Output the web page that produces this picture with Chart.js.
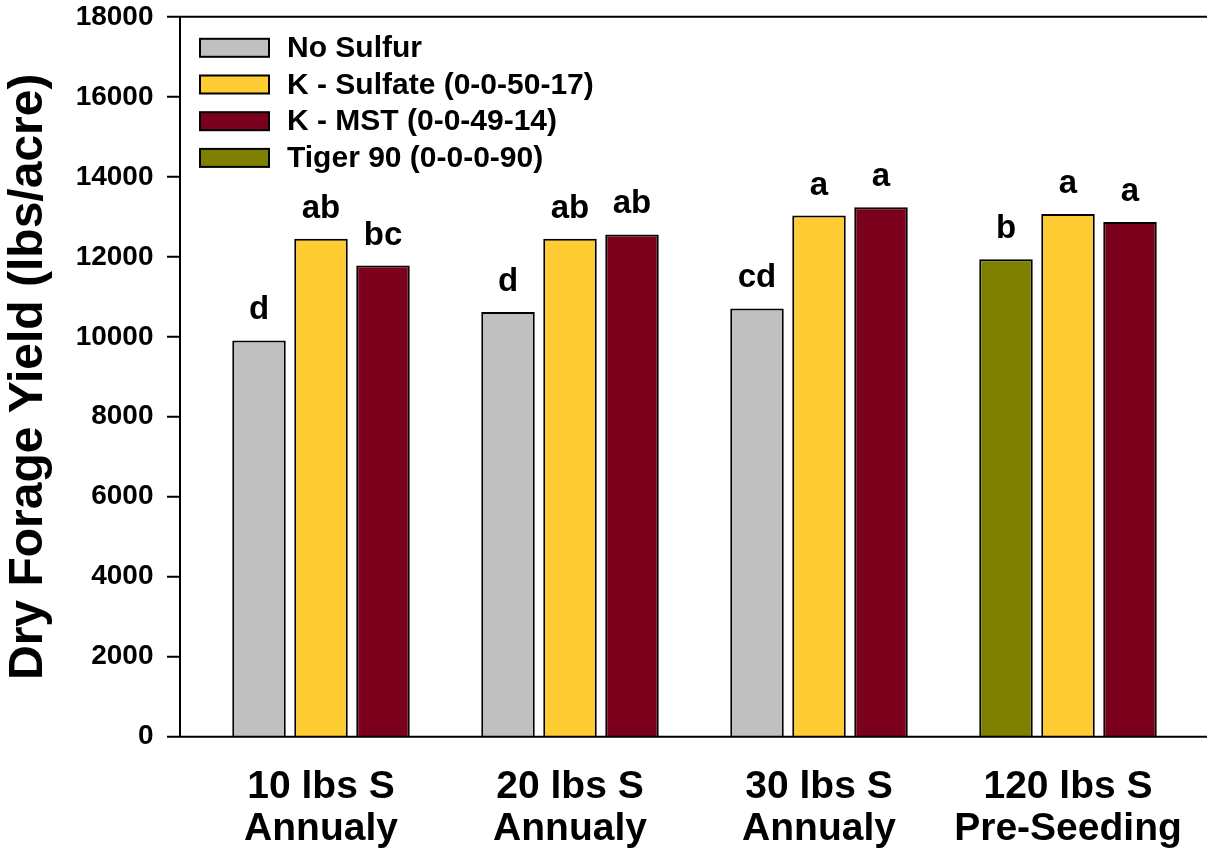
<!DOCTYPE html>
<html lang="en">
<head>
  <meta charset="UTF-8" />
  <title>Dry Forage Yield</title>
  <script src="https://cdn.jsdelivr.net/npm/chart.js"></script>
  <style>
    html, body { margin: 0; padding: 0; background: #fff; }
    #wrap { width: 1207px; height: 856px; }
  </style>
</head>
<body>
  <div id="wrap"><canvas id="yieldChart" width="1207" height="856"></canvas></div>

  <script>
    // ---- data ----
    const categories = [
      ['10 lbs S', 'Annualy'],
      ['20 lbs S', 'Annualy'],
      ['30 lbs S', 'Annualy'],
      ['120 lbs S', 'Pre-Seeding']
    ];
    const seriesNames = ['No Sulfur', 'K - Sulfate (0-0-50-17)', 'K - MST (0-0-49-14)', 'Tiger 90 (0-0-0-90)'];

    // first bar in each group is the control; the pre-seeding group uses Tiger 90 there
    const firstBarSeries = ['No Sulfur', 'No Sulfur', 'No Sulfur', 'Tiger 90 (0-0-0-90)'];
    const firstBar = [9910, 10620, 10710, 11940];
    const kSulfate = [12450, 12450, 13030, 13070];
    const kMst     = [11780, 12560, 13240, 12870];

    const firstLetters   = ['d', 'd', 'cd', 'b'];
    const sulfateLetters = ['ab', 'ab', 'a', 'a'];
    const mstLetters     = ['bc', 'ab', 'a', 'a'];

    const yMin = 0, yMax = 18000, yStep = 2000;

    const seriesColors = {
      'No Sulfur': '#C0C0C0',
      'K - Sulfate (0-0-50-17)': '#FFCC33',
      'K - MST (0-0-49-14)': '#7A001C',
      'Tiger 90 (0-0-0-90)': '#808000'
    };

    const FONT = "'Liberation Sans', Arial, sans-serif";
    Chart.defaults.font.family = FONT;
    Chart.defaults.color = '#000';

    // axis frame: y axis sits a bit left of the first group, ticks point outward
    const axisFrame = {
      id: 'axisFrame',
      afterDatasetsDraw(chart) {
        const { ctx, chartArea: { top, bottom, left }, scales: { y } } = chart;
        const axisX = left - 16.5;
        ctx.save();
        ctx.strokeStyle = '#000';
        ctx.lineWidth = 2;
        ctx.beginPath();
        ctx.moveTo(axisX, top);
        ctx.lineTo(axisX, bottom);
        ctx.moveTo(axisX - 13, bottom);
        ctx.lineTo(chart.width, bottom);
        ctx.moveTo(axisX - 13, top);
        ctx.lineTo(chart.width, top);
        y.ticks.forEach(t => {
          const py = y.getPixelForValue(t.value);
          ctx.moveTo(axisX - 13, py);
          ctx.lineTo(axisX, py);
        });
        ctx.stroke();
        ctx.restore();
      }
    };

    // significance letters over the bars
    const letterLabels = {
      id: 'letterLabels',
      afterDatasetsDraw(chart) {
        const ctx = chart.ctx;
        ctx.save();
        ctx.font = 'bold 33px ' + FONT;
        ctx.fillStyle = '#000';
        ctx.textAlign = 'center';
        ctx.textBaseline = 'alphabetic';
        [firstLetters, sulfateLetters, mstLetters].forEach((letters, i) => {
          chart.getDatasetMeta(i).data.forEach((bar, j) => {
            ctx.fillText(letters[j], bar.x, bar.y - 21);
          });
        });
        ctx.restore();
      }
    };

    // boxed legend inside the plot, top left
    const boxLegend = {
      id: 'boxLegend',
      afterDraw(chart) {
        const ctx = chart.ctx;
        const x0 = chart.chartArea.left + 3.5;
        ctx.save();
        ctx.font = 'bold 30px ' + FONT;
        ctx.textBaseline = 'middle';
        ctx.textAlign = 'left';
        ctx.lineWidth = 2;
        ctx.strokeStyle = '#000';
        seriesNames.forEach((name, i) => {
          const cy = chart.chartArea.top + 31 + i * 36.7;
          ctx.fillStyle = seriesColors[name];
          ctx.fillRect(x0, cy - 9, 69, 18);
          ctx.strokeRect(x0, cy - 9, 69, 18);
          ctx.fillStyle = '#000';
          ctx.fillText(name, x0 + 87, cy + 1);
        });
        ctx.restore();
      }
    };

    const barStyle = { borderColor: '#000', borderWidth: 2, categoryPercentage: 0.747, barPercentage: 0.863 };
    const hiddenGrid = (len) => ({ display: true, drawOnChartArea: false, drawTicks: true, tickLength: len, color: 'rgba(0,0,0,0)' });

    new Chart(document.getElementById('yieldChart'), {
      type: 'bar',
      data: {
        labels: categories,
        datasets: [
          Object.assign({ label: 'No Sulfur', data: firstBar, backgroundColor: firstBarSeries.map(s => seriesColors[s]) }, barStyle),
          Object.assign({ label: seriesNames[1], data: kSulfate, backgroundColor: seriesColors[seriesNames[1]] }, barStyle),
          Object.assign({ label: seriesNames[2], data: kMst, backgroundColor: seriesColors[seriesNames[2]] }, barStyle)
        ]
      },
      options: {
        responsive: false,
        animation: false,
        devicePixelRatio: 1,
        layout: { padding: { left: 0, right: 14.5, top: 16, bottom: 6 } },
        plugins: {
          legend: { display: false },
          tooltip: { enabled: false }
        },
        scales: {
          x: {
            grid: hiddenGrid(29),
            border: { display: false },
            ticks: {
              font: { size: 39, weight: 'bold', lineHeight: 1.08 },
              color: '#000',
              padding: 0,
              maxRotation: 0,
              autoSkip: false
            }
          },
          y: {
            min: yMin,
            max: yMax,
            grid: hiddenGrid(43),
            border: { display: false },
            ticks: {
              stepSize: yStep,
              font: { size: 28, weight: 'bold' },
              color: '#000',
              padding: 0,
              callback: v => String(v)
            },
            title: {
              display: true,
              text: 'Dry Forage Yield (lbs/acre)',
              font: { size: 48, weight: 'bold', lineHeight: 1.2 },
              color: '#000',
              padding: { top: 0, bottom: 0 }
            },
            afterFit(scale) { scale.width = 196.5; }
          }
        }
      },
      plugins: [axisFrame, letterLabels, boxLegend]
    });
  </script>
</body>
</html>
